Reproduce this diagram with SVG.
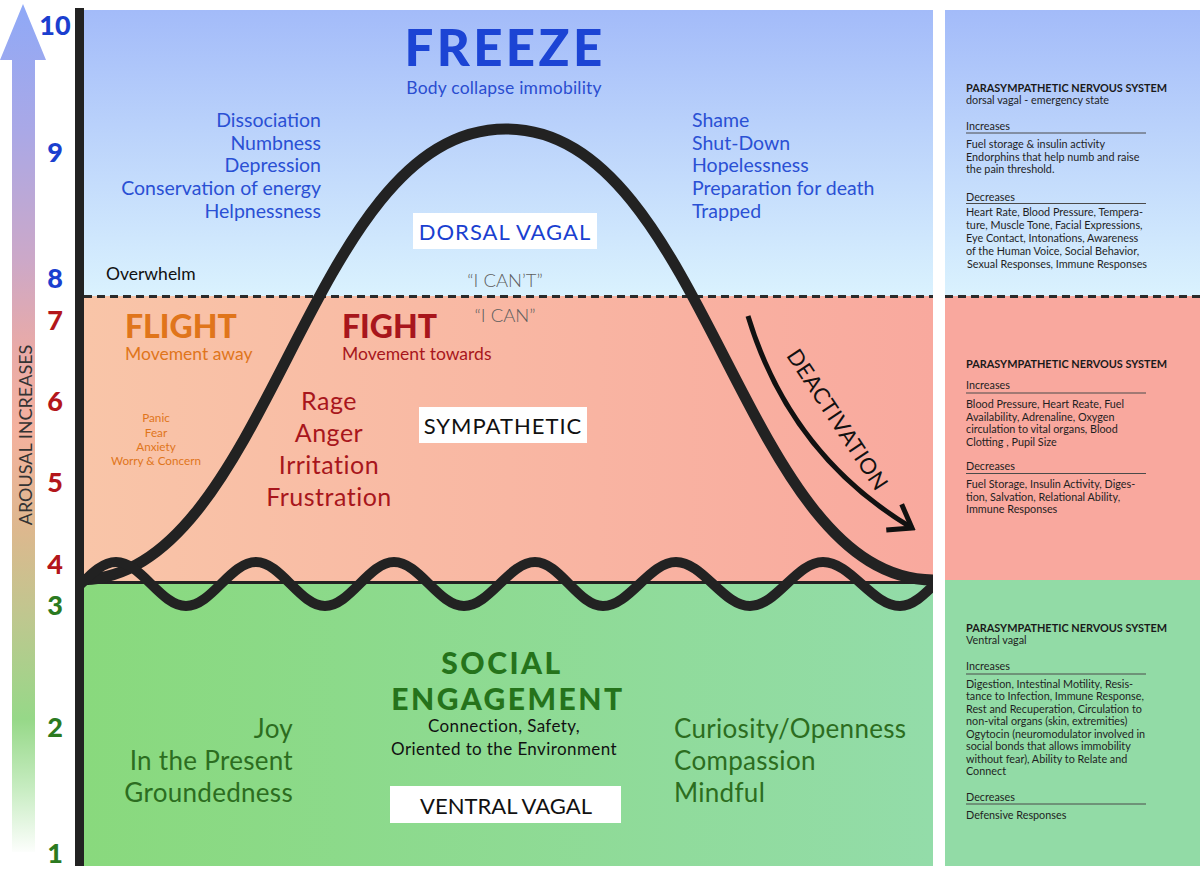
<svg xmlns="http://www.w3.org/2000/svg" width="1200" height="882" viewBox="0 0 1200 882">
<defs>
<linearGradient id="gBlue" x1="0" y1="10" x2="0" y2="296" gradientUnits="userSpaceOnUse"><stop offset="0" stop-color="#a3bbf9"/><stop offset="1" stop-color="#daf2fe"/></linearGradient>
<linearGradient id="gRed" x1="84" y1="0" x2="933" y2="0" gradientUnits="userSpaceOnUse"><stop offset="0" stop-color="#f9c5a8"/><stop offset="1" stop-color="#f9a99e"/></linearGradient>
<linearGradient id="gGreen" x1="84" y1="0" x2="933" y2="0" gradientUnits="userSpaceOnUse"><stop offset="0" stop-color="#89d97d"/><stop offset="1" stop-color="#93dca9"/></linearGradient>
<linearGradient id="gArrow" x1="0" y1="5" x2="0" y2="855" gradientUnits="userSpaceOnUse">
<stop offset="0" stop-color="#8fa9f7"/><stop offset="0.15" stop-color="#aaa8e6"/><stop offset="0.3" stop-color="#cca8c8"/><stop offset="0.4" stop-color="#e8aaa8"/><stop offset="0.5" stop-color="#f4b19e"/><stop offset="0.62" stop-color="#dcb88e"/><stop offset="0.72" stop-color="#bfc78f"/><stop offset="0.84" stop-color="#96d888"/><stop offset="0.92" stop-color="#c6ecc0"/><stop offset="1" stop-color="#ffffff"/></linearGradient>
<clipPath id="clipMain"><rect x="84" y="0" width="849" height="882"/></clipPath>
<marker id="chev" viewBox="-28 -18 32 36" refX="0" refY="0" markerWidth="32" markerHeight="36" markerUnits="userSpaceOnUse" orient="auto"><path d="M-21,-15 L0,0 L-21,15" fill="none" stroke="#111" stroke-width="5"/></marker>
</defs>
<style>
text{font-family:Lato,"Noto Sans","Liberation Sans",sans-serif}
.num{font-weight:900;font-size:27px;text-anchor:middle}
.nb{fill:#1b3fcf}.nr{fill:#b3161b}.ng{fill:#2b7a1f}
.blist{font-size:19.5px;fill:#2a50d4}
.box{fill:#fff}
.boxt{font-size:22px;text-anchor:middle}
.fl{fill:#e0751b}
.fi{fill:#a8161c}
.gr{fill:#2c6d20;font-size:26px;letter-spacing:.3px}
.rp{font-size:10.8px;fill:#1f1f1f}
.rpt{font-size:10.9px;font-weight:700;fill:#1a1a1a}
.rule{stroke:#4a4a4a;stroke-width:1}
.curve{fill:none;stroke:#222;stroke-width:11}
.wave{fill:none;stroke:#222;stroke-width:10}
.dash{stroke:#2a2a2a;stroke-width:3;stroke-dasharray:8 5}
</style>
<rect width="1200" height="882" fill="#fff"/>
<g id="main-panel">
<rect x="84" y="10" width="849" height="286" fill="url(#gBlue)"/>
<rect x="84" y="296" width="849" height="287" fill="url(#gRed)"/>
<rect x="84" y="583" width="849" height="283" fill="url(#gGreen)"/>
</g>
<g id="side-panel-bg">
<rect x="945" y="10" width="255" height="286" fill="url(#gBlue)"/>
<rect x="945" y="296" width="255" height="284" fill="#f9a89e"/>
<rect x="945" y="580" width="255" height="286" fill="#92dba6"/>
</g>
<g id="threshold-lines">
<line class="dash" x1="84" y1="296.5" x2="933" y2="296.5"/>
<line class="dash" x1="945" y1="296.5" x2="1200" y2="296.5"/>
<line x1="84" y1="582.5" x2="933" y2="582.5" stroke="#222" stroke-width="3"/>
</g>
<g id="connectors">
<g clip-path="url(#clipMain)">
<path class="curve" d="M78,580 C271,580 305,129 506,129 C707,129 741,580 934,580"/>
<path class="wave" d="M46,606 C71.5,606 90.5,562 116,562 C141.5,562 160.5,606 186,606 C211.5,606 230.5,562 256,562 C281,562 300,606 325,606 C350,606 369,562 394,562 C419.5,562 438.5,606 464,606 C489.8,606 509.2,562 535,562 C559.8,562 578.2,606 603,606 C629.6,606 649.4,562 676,562 C702.9,562 723.1,606 750,606 C776.6,606 796.4,562 823,562 C851,562 872,606 900,606 C925,606 945,562 970,562"/>
</g>
<path d="M748,316 Q790,455 912,528" fill="none" stroke="#111" stroke-width="5" marker-end="url(#chev)"/>
</g>
<g id="axis">
<rect x="75" y="8" width="9" height="858" fill="#222"/>
<polygon points="23,4 46,60 35,60 35,852 12,852 12,60 0,60" fill="url(#gArrow)"/>
<text x="0" y="0" transform="translate(32,435) rotate(-90)" text-anchor="middle" font-size="18" fill="#333">AROUSAL INCREASES</text>
<text class="num nb" x="55" y="35">10</text>
<text class="num nb" x="55" y="162">9</text>
<text class="num nb" x="55" y="288">8</text>
<text class="num nr" x="55" y="330">7</text>
<text class="num nr" x="55" y="411">6</text>
<text class="num nr" x="55" y="492">5</text>
<text class="num nr" x="55" y="574">4</text>
<text class="num ng" x="55" y="615">3</text>
<text class="num ng" x="55" y="737">2</text>
<text class="num ng" x="55" y="863">1</text>
</g>
<g id="freeze">
<text x="505" y="65.5" text-anchor="middle" font-size="51" font-weight="900" letter-spacing="3.4" fill="#1c44d4">FREEZE</text>
<text x="504" y="94" text-anchor="middle" font-size="17.5" letter-spacing=".2" fill="#2a4dd0">Body collapse immobility</text>
</g>
<g id="freeze-left" class="blist" text-anchor="end">
<text x="321" y="127">Dissociation</text>
<text x="321" y="149.5">Numbness</text>
<text x="321" y="172">Depression</text>
<text x="321" y="195">Conservation of energy</text>
<text x="321" y="217.5">Helpnessness</text>
</g>
<g id="freeze-right" class="blist">
<text x="692" y="127">Shame</text>
<text x="692" y="149.5">Shut-Down</text>
<text x="692" y="172">Hopelessness</text>
<text x="692" y="195">Preparation for death</text>
<text x="692" y="217.5">Trapped</text>
</g>
<g id="dorsal-vagal">
<rect class="box" x="413" y="213" width="184" height="36"/>
<text class="boxt" x="505" y="240" letter-spacing="1" fill="#1a3fd0">DORSAL VAGAL</text>
</g>
<g id="overwhelm">
<text x="106" y="280" font-size="17.5" fill="#111">Overwhelm</text>
</g>
<g id="i-cant-can" fill="#5e5e5e" font-weight="300" text-anchor="middle">
<text x="505" y="286.5" font-size="18.5">“I CAN’T”</text>
<text x="505" y="321.5" font-size="18.5">“I CAN”</text>
</g>
<g id="flight" class="fl">
<text x="125" y="338" font-size="32" font-weight="900">FLIGHT</text>
<text x="125" y="360" font-size="17.5">Movement away</text>
<g font-size="11.7" text-anchor="middle">
<text x="156" y="422">Panic</text>
<text x="156" y="436.5">Fear</text>
<text x="156" y="450.5">Anxiety</text>
<text x="156" y="464.5">Worry &amp; Concern</text>
</g>
</g>
<g id="fight" class="fi">
<text x="342" y="338" font-size="32" font-weight="900">FIGHT</text>
<text x="342" y="360" font-size="17.5">Movement towards</text>
<g font-size="25" letter-spacing=".5" text-anchor="middle">
<text x="329" y="410">Rage</text>
<text x="329" y="442">Anger</text>
<text x="329" y="474">Irritation</text>
<text x="329" y="506">Frustration</text>
</g>
</g>
<g id="sympathetic">
<rect class="box" x="419" y="407" width="168" height="36"/>
<text class="boxt" x="503" y="433.5" font-size="21" letter-spacing="1" fill="#111">SYMPATHETIC</text>
</g>
<g id="deactivation">
<text x="0" y="0" transform="translate(831,424) rotate(56.5)" text-anchor="middle" font-size="22" letter-spacing=".5" fill="#111">DEACTIVATION</text>
</g>
<g id="social-engagement" fill="#25731b" font-weight="900" font-size="30" letter-spacing="2.5" text-anchor="middle">
<text x="502" y="673.5">SOCIAL</text>
<text x="508" y="710">ENGAGEMENT</text>
</g>
<g id="social-sub" font-size="17" letter-spacing=".4" text-anchor="middle" fill="#111">
<text x="504" y="732">Connection, Safety,</text>
<text x="504" y="755">Oriented to the Environment</text>
</g>
<g id="ventral-vagal">
<rect class="box" x="390" y="786" width="231" height="37"/>
<text class="boxt" x="506" y="813.5" font-size="22.5" fill="#111">VENTRAL VAGAL</text>
</g>
<g id="green-left" class="gr" text-anchor="end">
<text x="293" y="738">Joy</text>
<text x="293" y="770">In the Present</text>
<text x="293" y="802">Groundedness</text>
</g>
<g id="green-right" class="gr">
<text x="674" y="738">Curiosity/Openness</text>
<text x="674" y="770">Compassion</text>
<text x="674" y="802">Mindful</text>
</g>
<g id="panel-dorsal">
<text class="rpt" x="966" y="92">PARASYMPATHETIC NERVOUS SYSTEM</text>
<text class="rp" x="966" y="104">dorsal vagal - emergency state</text>
<text class="rp" x="966" y="130">Increases</text>
<line class="rule" x1="966" y1="133" x2="1146" y2="133"/>
<text class="rp" x="966" y="148">Fuel storage &amp; insulin activity</text>
<text class="rp" x="966" y="160.5">Endorphins that help numb and raise</text>
<text class="rp" x="966" y="173">the pain threshold.</text>
<text class="rp" x="966" y="200.5">Decreases</text>
<line class="rule" x1="966" y1="203.5" x2="1146" y2="203.5"/>
<text class="rp" x="966" y="215.5">Heart Rate, Blood Pressure, Tempera-</text>
<text class="rp" x="966" y="229">ture, Muscle Tone, Facial Expressions,</text>
<text class="rp" x="966" y="242">Eye Contact, Intonations, Awareness</text>
<text class="rp" x="966" y="255">of the Human Voice, Social Behavior,</text>
<text class="rp" x="967" y="268">Sexual Responses, Immune Responses</text>
</g>
<g id="panel-sympathetic">
<text class="rpt" x="966" y="368">PARASYMPATHETIC NERVOUS SYSTEM</text>
<text class="rp" x="966" y="389">Increases</text>
<line class="rule" x1="966" y1="393" x2="1146" y2="393"/>
<text class="rp" x="966" y="408">Blood Pressure, Heart Reate, Fuel</text>
<text class="rp" x="966" y="420.5">Availability, Adrenaline, Oxygen</text>
<text class="rp" x="966" y="433">circulation to vital organs, Blood</text>
<text class="rp" x="966" y="445.5">Clotting , Pupil Size</text>
<text class="rp" x="966" y="470">Decreases</text>
<line class="rule" x1="966" y1="473.5" x2="1146" y2="473.5"/>
<text class="rp" x="966" y="488">Fuel Storage, Insulin Activity, Diges-</text>
<text class="rp" x="966" y="500.5">tion, Salvation, Relational Ability,</text>
<text class="rp" x="966" y="513">Immune Responses</text>
</g>
<g id="panel-ventral">
<text class="rpt" x="966" y="632">PARASYMPATHETIC NERVOUS SYSTEM</text>
<text class="rp" x="966" y="644">Ventral vagal</text>
<text class="rp" x="966" y="670">Increases</text>
<line class="rule" x1="966" y1="674" x2="1146" y2="674"/>
<text class="rp" x="966" y="687.5">Digestion, Intestinal Motility, Resis-</text>
<text class="rp" x="966" y="700">tance to Infection, Immune Response,</text>
<text class="rp" x="966" y="712.5">Rest and Recuperation, Circulation to</text>
<text class="rp" x="966" y="725">non-vital organs (skin, extremities)</text>
<text class="rp" x="966" y="737.5">Ogytocin (neuromodulator involved in</text>
<text class="rp" x="966" y="750">social bonds that allows immobility</text>
<text class="rp" x="966" y="762.5">without fear), Ability to Relate and</text>
<text class="rp" x="966" y="775">Connect</text>
<text class="rp" x="966" y="800.5">Decreases</text>
<line class="rule" x1="966" y1="804" x2="1146" y2="804"/>
<text class="rp" x="966" y="819">Defensive Responses</text>
</g>
</svg>
